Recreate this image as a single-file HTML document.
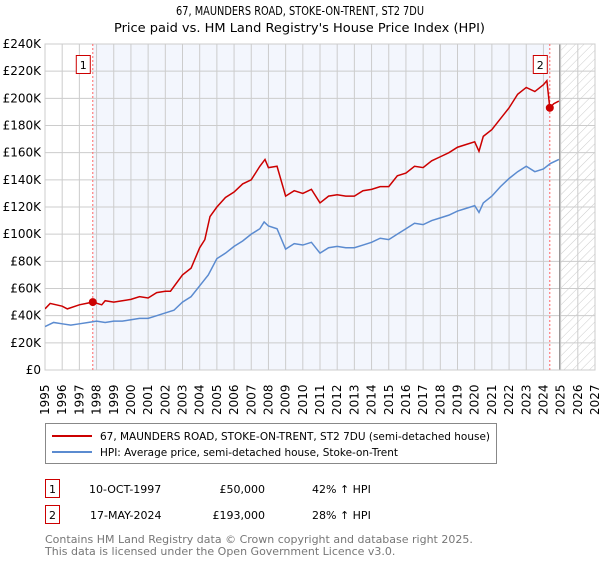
<!DOCTYPE html>
<html><head><meta charset="utf-8"><style>
body{margin:0;background:#fff;font-family:"DejaVu Sans","Liberation Sans",sans-serif;}
svg text{font-family:"DejaVu Sans","Liberation Sans",sans-serif;}
</style></head><body>
<svg id="chart" width="600" height="560" xmlns="http://www.w3.org/2000/svg">
<defs>
<pattern id="hatch" width="6" height="6" patternUnits="userSpaceOnUse" patternTransform="rotate(45)">
<line x1="0" y1="0" x2="0" y2="6" stroke="#ccc" stroke-width="1"/></pattern>
<clipPath id="clip"><rect x="45" y="44" width="550" height="326"/></clipPath>
</defs>
<text x="176" y="15" font-size="12" textLength="248" lengthAdjust="spacingAndGlyphs">67, MAUNDERS ROAD, STOKE-ON-TRENT, ST2 7DU</text>
<text x="114" y="32" font-size="12" textLength="371" lengthAdjust="spacingAndGlyphs">Price paid vs. HM Land Registry's House Price Index (HPI)</text>
<g id="plot"></g>
<rect x="45.5" y="423.5" width="451" height="40" fill="#fff" stroke="#888"/>
<line x1="52" y1="436" x2="92" y2="436" stroke="#cc0000" stroke-width="2"/>
<text x="100" y="440" font-size="11" textLength="390" lengthAdjust="spacingAndGlyphs">67, MAUNDERS ROAD, STOKE-ON-TRENT, ST2 7DU (semi-detached house)</text>
<line x1="52" y1="452" x2="92" y2="452" stroke="#5b8bd0" stroke-width="2"/>
<text x="100" y="456" font-size="11" textLength="298" lengthAdjust="spacingAndGlyphs">HPI: Average price, semi-detached house, Stoke-on-Trent</text>
<g font-size="11">
<rect x="45.5" y="479.5" width="14" height="18" fill="#fff" stroke="#cc0000"/>
<text x="52.5" y="493" text-anchor="middle">1</text>
<text x="89" y="493">10-OCT-1997</text>
<text x="265" y="493" text-anchor="end">£50,000</text>
<text x="312" y="493">42% ↑ HPI</text></g>
<g font-size="11">
<rect x="45.5" y="505.5" width="14" height="18" fill="#fff" stroke="#cc0000"/>
<text x="52.5" y="519" text-anchor="middle">2</text>
<text x="90" y="519">17-MAY-2024</text>
<text x="265" y="519" text-anchor="end">£193,000</text>
<text x="312" y="519">28% ↑ HPI</text></g>
<text x="45" y="543" font-size="11" fill="#777">Contains HM Land Registry data © Crown copyright and database right 2025.</text>
<text x="45" y="555" font-size="11" fill="#777">This data is licensed under the Open Government Licence v3.0.</text>
</svg>
<script>
const hpiYears=[1995,1995.5,1996,1996.5,1997,1997.5,1998,1998.5,1999,1999.5,2000,2000.5,2001,2001.5,2002,2002.5,2003,2003.5,2004,2004.5,2005,2005.5,2006,2006.5,2007,2007.5,2007.75,2008,2008.5,2009,2009.5,2010,2010.5,2011,2011.5,2012,2012.5,2013,2013.5,2014,2014.5,2015,2015.5,2016,2016.5,2017,2017.5,2018,2018.5,2019,2019.5,2020,2020.25,2020.5,2021,2021.5,2022,2022.5,2023,2023.5,2024,2024.4,2024.9];
const hpiValues=[32,35,34,33,34,35,36,35,36,36,37,38,38,40,42,44,50,54,62,70,82,86,91,95,100,104,109,106,104,89,93,92,94,86,90,91,90,90,92,94,97,96,100,104,108,107,110,112,114,117,119,121,116,123,128,135,141,146,150,146,148,152,155];
const priceYears=[1995,1995.3,1996,1996.3,1997,1997.78,1998.3,1998.5,1999,1999.5,2000,2000.5,2001,2001.5,2002,2002.3,2003,2003.5,2004,2004.3,2004.6,2005,2005.5,2006,2006.5,2007,2007.5,2007.8,2008,2008.5,2009,2009.5,2010,2010.5,2011,2011.5,2012,2012.5,2013,2013.5,2014,2014.5,2015,2015.5,2016,2016.5,2017,2017.5,2018,2018.5,2019,2019.5,2020,2020.25,2020.5,2021,2021.5,2022,2022.5,2023,2023.5,2024,2024.2,2024.37,2024.6,2024.9];
const priceValues=[45,49,47,45,48,50,48,51,50,51,52,54,53,57,58,58,70,75,90,96,113,120,127,131,137,140,150,155,149,150,128,132,130,133,123,128,129,128,128,132,133,135,135,143,145,150,149,154,157,160,164,166,168,161,172,177,185,193,203,208,205,210,213,193,196,198];
const saleYears=[1997.78,2024.37];
const saleValues=[50,193];
const saleLabels=["1","2"];
const yTicks=[0,20,40,60,80,100,120,140,160,180,200,220,240];
const xTicks=[1995,1996,1997,1998,1999,2000,2001,2002,2003,2004,2005,2006,2007,2008,2009,2010,2011,2012,2013,2014,2015,2016,2017,2018,2019,2020,2021,2022,2023,2024,2025,2026,2027];
const X0=45,X1=595,Y0=370,Y1=44;
const x=v=>X0+(v-1995)/32*(X1-X0);
const y=v=>Y0-v/240*(Y0-Y1);
const NS="http://www.w3.org/2000/svg";
const g=document.getElementById('plot');
function mk(t,a){const e=document.createElementNS(NS,t);for(const k in a)e.setAttribute(k,a[k]);g.appendChild(e);return e;}
let e;
e=mk('rect',{x:x(saleYears[0]),y:Y1,width:x(saleYears[1])-x(saleYears[0]),height:Y0-Y1,fill:'#f3f6fd'});


e=mk('rect',{x:x(2025),y:Y1,width:X1-x(2025),height:Y0-Y1,fill:'url(#hatch)'});


yTicks.forEach(t=>{
 e=mk('line',{x1:X0,x2:X1,y1:y(t),y2:y(t),stroke:'#ccc'});
 
 
 e=mk('text',{x:X0-4,y:y(t)+4,'text-anchor':'end','font-size':'12'});e.textContent=t===0?'£0':'£'+t+'K';
 
 
});
xTicks.forEach(t=>{
 e=mk('line',{x1:x(t),x2:x(t),y1:Y1,y2:Y0,stroke:'#ccc'});
 
 
 e=mk('text',{transform:`translate(${x(t)+4},${Y0+45}) rotate(-90)`,'font-size':'12'});e.textContent=t;
 
 
});
e=mk('line',{x1:x(2025)-1,x2:x(2025)-1,y1:Y1,y2:Y0,stroke:'#888'});


e=mk('rect',{x:X0,y:Y1,width:X1-X0,height:Y0-Y1,fill:'none',stroke:'#ccc'});


saleYears.forEach((s,i)=>{
 e=mk('line',{x1:x(s),x2:x(s),y1:Y1,y2:Y0,stroke:'#f66','stroke-dasharray':'2,2'});
 
 
});
e=mk('polyline',{points:hpiYears.map((v,i)=>x(v)+','+y(hpiValues[i])).join(' '),fill:'none',stroke:'#5b8bd0','stroke-width':1.5,'clip-path':'url(#clip)'});


e=mk('polyline',{points:priceYears.map((v,i)=>x(v)+','+y(priceValues[i])).join(' '),fill:'none',stroke:'#cc0000','stroke-width':1.5,'clip-path':'url(#clip)'});


saleYears.forEach((s,i)=>{
 e=mk('circle',{cx:x(s),cy:y(saleValues[i]),r:4,fill:'#cc0000'});
 
 
 e=mk('rect',{x:x(s)-16.5,y:55.5,width:14,height:18,fill:'#fff',stroke:'#cc0000'});
 
 
 e=mk('text',{x:x(s)-9.5,y:69,'text-anchor':'middle','font-size':'11'});e.textContent=saleLabels[i];
 
 
});
</script>
</body></html>
